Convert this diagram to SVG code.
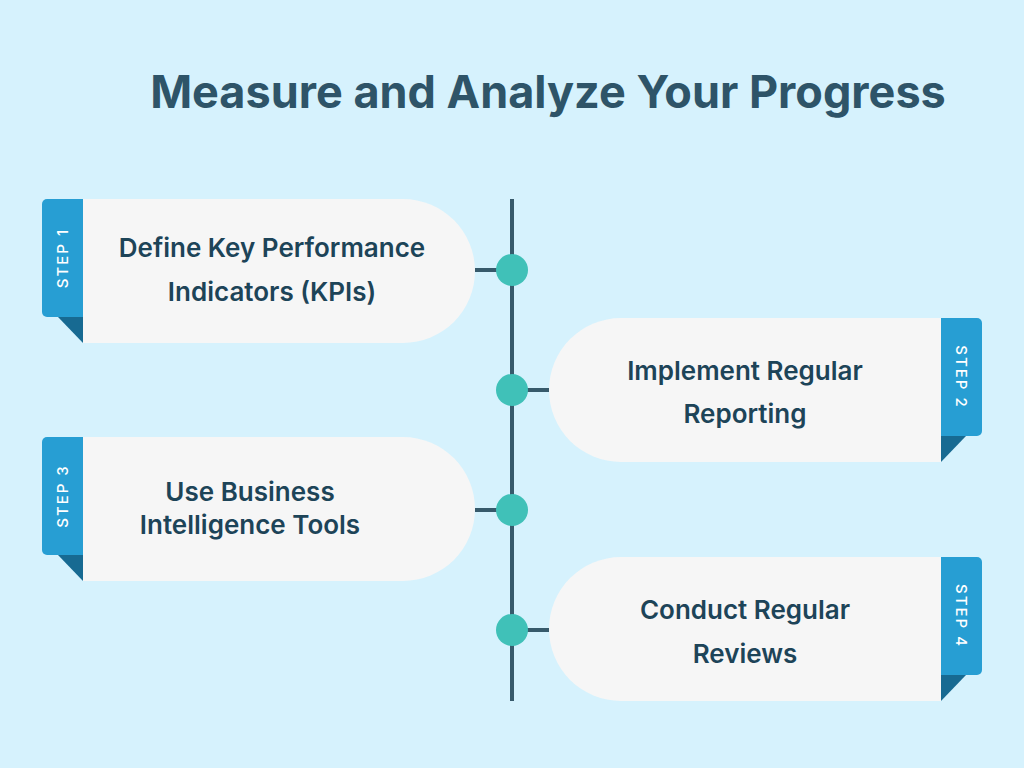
<svg xmlns="http://www.w3.org/2000/svg" width="1024" height="768" viewBox="0 0 1024 768">
<style>
.card{fill:#f6f6f6}
.tab{fill:#279ed3}
.fold{fill:#176a92}
.lbl{font-family:Inter,"Liberation Sans",sans-serif;font-weight:600;font-size:26px;fill:#1d4458;text-anchor:middle}
.step{font-family:Inter,"Liberation Sans",sans-serif;font-weight:500;font-size:15px;fill:#ffffff;text-anchor:middle;letter-spacing:2px}
.ln{stroke:#375a6b;stroke-width:4;fill:none}
.dot{fill:#40c1b8}
</style>
<rect width="1024" height="768" fill="#d6f2fd"/>
<text x="548" y="108" font-family="Inter,'Liberation Sans',sans-serif" font-weight="700" font-size="45" fill="#2e5468" text-anchor="middle">Measure and Analyze Your Progress</text>
<g id="connectors">
<line class="ln" x1="512" y1="199" x2="512" y2="701"/>
<line class="ln" x1="475" y1="270" x2="512" y2="270"/>
<line class="ln" x1="512" y1="390" x2="549" y2="390"/>
<line class="ln" x1="475" y1="510" x2="512" y2="510"/>
<line class="ln" x1="512" y1="630" x2="549" y2="630"/>
<circle class="dot" cx="512" cy="270" r="16"/>
<circle class="dot" cx="512" cy="390" r="16"/>
<circle class="dot" cx="512" cy="510" r="16"/>
<circle class="dot" cx="512" cy="630" r="16"/>
</g>
<g id="step1">
<path class="card" d="M83 199H403A72 72 0 0 1 403 343H83Z"/>
<rect class="tab" x="42" y="199" width="41" height="118" rx="5"/>
<rect class="tab" x="70" y="199" width="13" height="118"/>
<path class="fold" d="M58 317H83V343Z"/>
<text class="step" transform="translate(68 258) rotate(-90)">STEP 1</text>
<text class="lbl" x="272" y="257">Define Key Performance</text>
<text class="lbl" x="272" y="301">Indicators (KPIs)</text>
</g>
<g id="step2">
<path class="card" d="M941 318H621A72 72 0 0 0 621 462H941Z"/>
<rect class="tab" x="941" y="318" width="41" height="118" rx="5"/>
<rect class="tab" x="941" y="318" width="13" height="118"/>
<path class="fold" d="M966 436H941V462Z"/>
<text class="step" transform="translate(956 377) rotate(90)">STEP 2</text>
<text class="lbl" x="745" y="380">Implement Regular</text>
<text class="lbl" x="745" y="423">Reporting</text>
</g>
<g id="step3">
<path class="card" d="M83 437H403A72 72 0 0 1 403 581H83Z"/>
<rect class="tab" x="42" y="437" width="41" height="118" rx="5"/>
<rect class="tab" x="70" y="437" width="13" height="118"/>
<path class="fold" d="M58 555H83V581Z"/>
<text class="step" transform="translate(68 496) rotate(-90)">STEP 3</text>
<text class="lbl" x="250" y="501">Use Business</text>
<text class="lbl" x="250" y="534">Intelligence Tools</text>
</g>
<g id="step4">
<path class="card" d="M941 557H621A72 72 0 0 0 621 701H941Z"/>
<rect class="tab" x="941" y="557" width="41" height="118" rx="5"/>
<rect class="tab" x="941" y="557" width="13" height="118"/>
<path class="fold" d="M966 675H941V701Z"/>
<text class="step" transform="translate(956 616) rotate(90)">STEP 4</text>
<text class="lbl" x="745" y="619">Conduct Regular</text>
<text class="lbl" x="745" y="663">Reviews</text>
</g>
</svg>
